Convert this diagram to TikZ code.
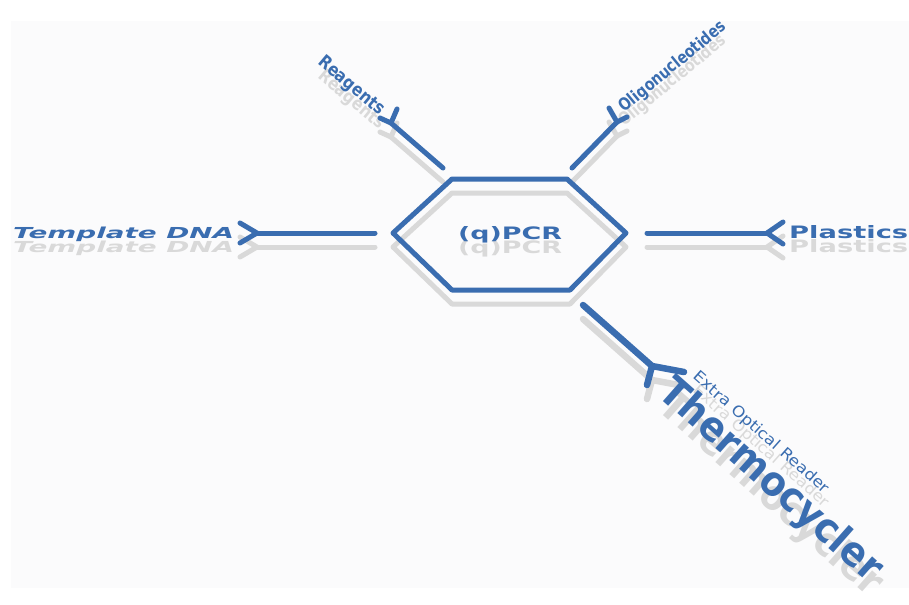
\documentclass[tikz,border=0pt]{standalone}
\usepackage{fontspec}
\setsansfont{DejaVu Sans}
\definecolor{pcrblue}{HTML}{3A6DB0}
\definecolor{shade}{HTML}{D9D9D9}
\definecolor{paper}{HTML}{FBFBFC}
\tikzset{
  link/.style={line width=5pt,line cap=round,line join=round},
  itemtext/.style={inner sep=0pt,font=\sffamily},
}
\begin{document}
\begin{tikzpicture}[x=1pt,y=-1pt]
  \fill[white] (0,0) rectangle (909,588);
  \fill[paper] (11,21) rectangle (909,588);
  % grey copy first, blue on top
  \foreach \dy/\col in {14/shade,0/pcrblue}{
  \begin{scope}[shift={(0,\dy)},draw=\col,text=\col]
    \coordinate (hl) at (393,233);  \coordinate (htl) at (452,179);
    \coordinate (htr) at (567,179); \coordinate (hr) at (626,233);
    \coordinate (hbr) at (570,290); \coordinate (hbl) at (452,290);
    \draw[link] (hl)--(htl)--(htr)--(hr)--(hbr)--(hbl)--cycle;
    \node[itemtext,anchor=base] (pcr) at (510,239) {\resizebox{104pt}{13pt}{\bfseries (q)PCR}};
    % left and right
    \coordinate (dnaend) at (375,233); \coordinate (dnafork) at (257,233);
    \draw[link] (dnaend)--(dnafork);
    \draw[link] (240,223)--(dnafork)--(240,243);
    \node[itemtext,anchor=base west] (dna) at (13,238) {\resizebox{221pt}{11.5pt}{\bfseries\itshape Template DNA}};
    \coordinate (plend) at (647,233); \coordinate (plfork) at (767,233);
    \draw[link] (plend)--(plfork);
    \draw[link] (783,222)--(plfork)--(783,244);
    \node[itemtext,anchor=base west] (plastics) at (789,238) {\resizebox{119pt}{13pt}{\bfseries Plastics}};
    % upper branches
    \coordinate (rgend) at (443,168); \coordinate (rgfork) at (391,123);
    \draw[link] (rgend)--(rgfork);
    \draw[link] (380,118)--(rgfork)--(397,109);
    \node[itemtext,rotate=-40] (reagents) at (351,86) {\resizebox{81pt}{13pt}{\bfseries Reagents}};
    \coordinate (olend) at (572,168); \coordinate (olfork) at (617,122);
    \draw[link] (olend)--(olfork);
    \draw[link] (609,108)--(olfork)--(627,117);
    \node[itemtext,rotate=39.4] (oligos) at (673,67) {\resizebox{133pt}{13pt}{\bfseries Oligonucleotides}};
    % thermocycler
    \coordinate (thend) at (583,305); \coordinate (thfork) at (652,366);
    \draw[link,line width=6.5pt] (thend)--(thfork);
    \draw[link,line width=6.5pt] (684,372)--(thfork)--(647,385);
    \node[itemtext,rotate=-41.5] (thermo) at (770,481) {\resizebox{284pt}{31pt}{\bfseries Thermocycler}};
    \node[itemtext,rotate=-41.5] (reader) at (761,433) {\resizebox{176pt}{11.5pt}{Extra Optical Reader}};
  \end{scope}
  }
\end{tikzpicture}
\end{document}
